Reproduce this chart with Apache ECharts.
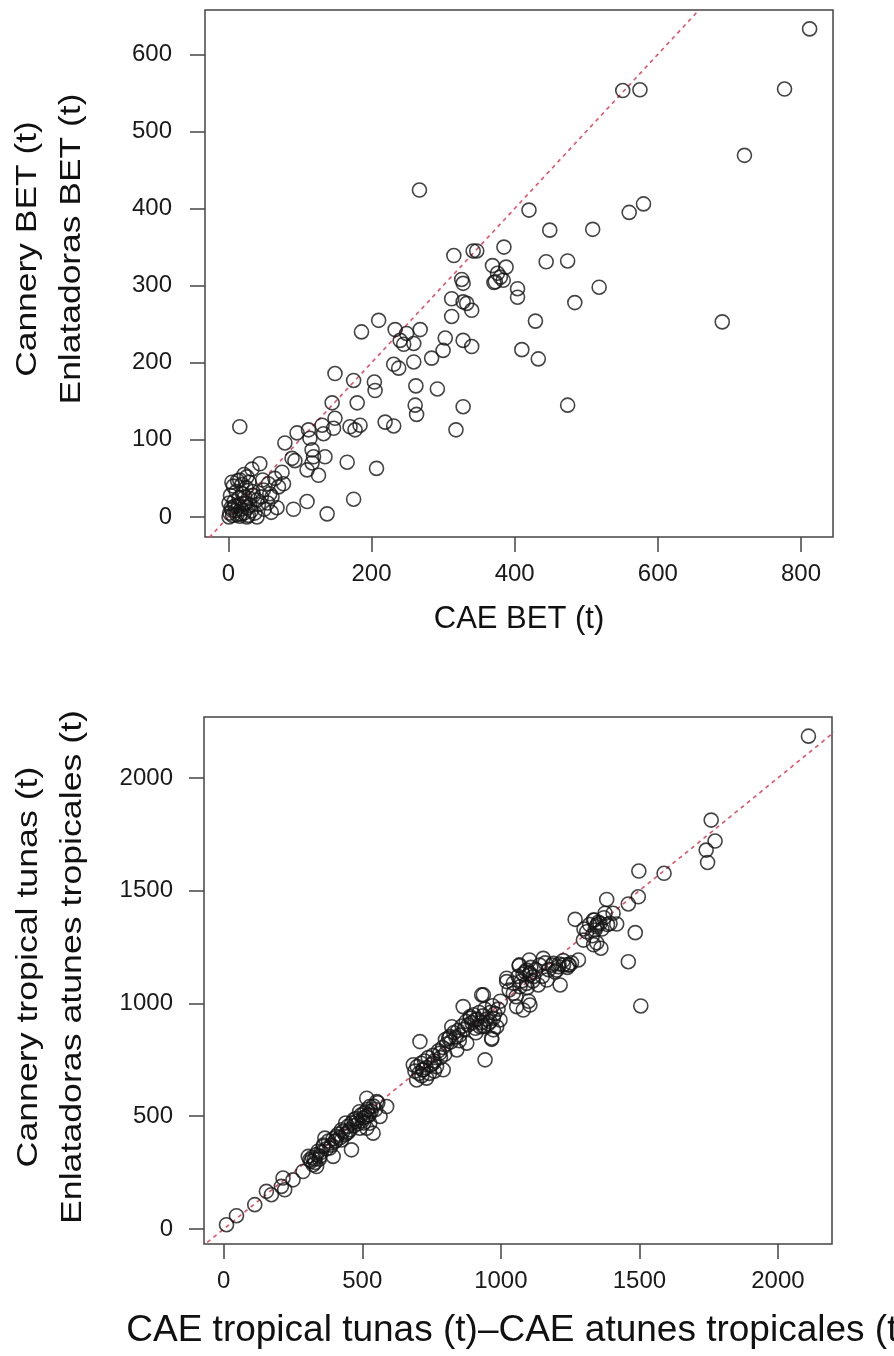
<!DOCTYPE html>
<html>
<head>
<meta charset="utf-8">
<script src="https://cdn.jsdelivr.net/npm/echarts@6/dist/echarts.min.js"></script>
<style>
html,body{margin:0;padding:0;background:#fff;}
#chart{width:894px;height:1356px;}
</style>
</head>
<body>
<div id="chart"></div>
<script>
// ---- Top panel: CAE BET (x) vs Cannery BET (y)
const topX = [812,777,721,551,575,420,560,580,449,509,385,444,474,369,388,404,404,484,518,429,690,410,433,474,267,315,342,347,326,373,376,384,380,371,
328,312,328,333,340,312,303,300,328,340,284,259,231,238,210,186,233,249,268,240,245,259,149,175,204,205,145,180,262,292,261,263,328,318,149,219,231,170,177,184,131,147,96,112,114,133,16,79,117,119,89,93,135,110,117,126,166,207,110,175,91,138,44,33,5,16,26,75,77,70,65,56,49,61,68,40,30,40,
2,4,6,8,10,12,14,15,16,18,20,22,24,25,27,28,30,32,34,3,7,11,13,19,22,1,5,9,17,21,23,29,35,37,42,46,50,55,60,1,26,48,58];
const topY = [633,555,469,553,554,398,395,406,372,373,350,331,332,326,324,296,285,278,298,254,253,217,205,145,424,339,345,345,308,305,316,307,311,304,
303,283,279,277,268,260,232,216,229,221,206,201,198,193,255,240,243,238,243,229,224,225,186,177,175,164,148,148,170,166,145,133,143,113,128,123,118,117,113,119,119,115,109,113,102,108,117,96,87,78,76,73,78,61,70,54,71,63,20,23,10,4,69,62,45,48,52,58,43,39,50,43,35,26,12,22,15,0,
5,12,2,20,8,3,15,25,1,10,30,5,18,38,12,2,24,8,33,28,40,33,47,42,55,18,9,14,4,17,26,45,28,5,16,26,10,18,6,0,0,48,30];

// ---- Bottom panel: CAE tropical tunas (x) vs Cannery tropical tunas (y)
const botX = [2110,1759,1773,1741,1746,1498,1589,1496,1460,1382,1268,1376,1334,1346,1358,1340,1394,1418,1310,1298,1346,1361,1485,1460,
1067,1103,1153,1190,1208,1226,1247,1280,1021,1105,1093,1117,1505,1066,1021,937,1045,1069,1093,1105,1135,1166,1202,1214,1244,1057,1081,1105,997,961,925,973,967,943,
10,46,112,154,172,214,208,220,250,286,311,323,305,335,347,365,359,383,395,401,425,443,407,461,479,503,521,527,491,516,516,552,588,527,564,539,
696,720,684,708,756,780,792,732,823,816,864,889,907,937,931,967,973,985,877,841,
315,320,328,335,340,352,360,370,378,388,395,405,412,420,430,438,448,455,462,470,478,485,495,500,508,512,518,525,532,540,548,556,505,490,470,450,440,425,345,330,
690,698,705,712,718,725,730,738,742,748,755,760,768,775,782,790,798,805,812,820,830,838,845,852,860,868,875,882,890,896,902,908,915,922,928,935,942,948,955,962,970,978,990,998,760,715,800,850,910,940,
1030,1045,1055,1062,1075,1088,1095,1108,1115,1125,1140,1150,1160,1172,1185,1195,1210,1225,1240,1255,1100,1080,
1300,1320,1330,1338,1345,1352,1365,1372,1385,1405,1335];
const botY = [2185,1813,1720,1680,1625,1587,1577,1473,1441,1461,1373,1400,1370,1348,1355,1326,1355,1352,1318,1281,1269,1245,1314,1185,
1171,1193,1200,1178,1163,1171,1171,1193,1112,1126,1148,1119,989,1167,1097,1038,1045,1074,1089,1134,1082,1104,1148,1082,1171,986,971,993,927,919,897,883,841,750,
19,59,108,167,152,226,189,174,218,255,307,285,322,277,322,403,366,359,322,388,440,425,410,351,477,492,506,469,447,447,580,565,543,543,499,425,
661,706,728,831,735,780,706,669,897,853,986,942,927,897,1038,846,935,897,824,794,
300,318,310,330,345,340,372,355,390,372,400,392,420,405,432,418,455,440,470,458,490,468,505,480,515,498,530,505,522,545,530,560,470,520,485,430,470,395,310,295,
700,720,690,735,705,745,715,760,690,728,770,745,720,790,760,805,775,820,845,830,870,850,880,860,900,885,920,905,935,915,950,890,930,960,915,945,975,930,910,960,990,955,975,1010,700,680,840,835,870,900,
1060,1090,1030,1120,1100,1140,1070,1160,1100,1150,1170,1120,1180,1150,1170,1140,1175,1190,1160,1180,1010,1130,
1330,1350,1300,1370,1340,1360,1330,1380,1350,1400,1260];

const topTicksX = [0,200,400,600,800];
const topTicksY = [0,100,200,300,400,500,600];
const botTicks = [0,500,1000,1500,2000];
const refLine = [[-1000,-1000],[5000,5000]];

function pairs(xs, ys){ return xs.map((x,i)=>[x, ys[i]]); }

const FONT = 'Liberation Sans, Arial, Helvetica, sans-serif';
const AX = '#444';
const plain = v => String(v);
function xAx(idx, min, max, ticks){
  return {type:'value', gridIndex:idx, min:min, max:max, position:'bottom',
    axisLine:{show:false, onZero:false},
    axisTick:{show:true, inside:false, length:15, customValues:ticks, lineStyle:{color:AX, width:1.5}},
    axisLabel:{show:true, customValues:ticks, formatter:plain, margin:25, fontSize:24, color:'#1a1a1a', fontFamily:FONT},
    splitLine:{show:false}};
}
function yAx(idx, min, max, ticks, margin){
  return {type:'value', gridIndex:idx, min:min, max:max, position:'left',
    axisLine:{show:false, onZero:false},
    axisTick:{show:true, inside:false, length:15, customValues:ticks, lineStyle:{color:AX, width:1.5}},
    axisLabel:{show:true, customValues:ticks, formatter:plain, margin:margin, fontSize:24, color:'#1a1a1a', fontFamily:FONT},
    splitLine:{show:false}};
}
const scatterStyle = {color:'rgba(0,0,0,0)', borderColor:'#151515', borderWidth:1.6};
const lineStyle = {color:'#DF536B', width:1.6, type:[4,4]};

function txt(text, x, y, size, rot, sx){
  return {type:'text', x:x, y:y, rotation:rot||0, scaleX:sx||1, scaleY:1,
    style:{text:text, fontSize:size, fontFamily:FONT, fill:'#111',
      align:'center', verticalAlign:'middle', textAlign:'center', textVerticalAlign:'middle'}};
}

const chart = echarts.init(document.getElementById('chart'), null, {renderer:'canvas'});
chart.setOption({
  animation:false,
  backgroundColor:'#fff',
  grid:[
    {left:205, top:10, width:628, height:527, show:true, borderColor:AX, borderWidth:1.5, backgroundColor:'rgba(0,0,0,0)'},
    {left:204, top:717, width:628, height:527, show:true, borderColor:AX, borderWidth:1.5, backgroundColor:'rgba(0,0,0,0)'}
  ],
  xAxis:[ xAx(0, -32.6, 844.7, topTicksX), xAx(1, -71.2, 2195, botTicks) ],
  yAxis:[ yAx(0, -26, 657.5, topTicksY, 33), yAx(1, -66.4, 2270, botTicks, 31) ],
  series:[
    {type:'line', xAxisIndex:0, yAxisIndex:0, data:refLine, showSymbol:false, symbol:'none', clip:true, lineStyle:lineStyle, silent:true, z:1},
    {type:'scatter', xAxisIndex:0, yAxisIndex:0, data:pairs(topX, topY), symbol:'circle', symbolSize:14, itemStyle:scatterStyle, z:2},
    {type:'line', xAxisIndex:1, yAxisIndex:1, data:refLine, showSymbol:false, symbol:'none', clip:true, lineStyle:lineStyle, silent:true, z:1},
    {type:'scatter', xAxisIndex:1, yAxisIndex:1, data:pairs(botX, botY), symbol:'circle', symbolSize:14, itemStyle:scatterStyle, z:2}
  ],
  graphic:[
    txt('Cannery BET (t)', 28, 249, 30, Math.PI/2, 1.18),
    txt('Enlatadoras BET (t)', 72, 249, 30, Math.PI/2, 1.18),
    txt('CAE BET (t)', 519, 619, 31),
    txt('Cannery tropical tunas (t)', 29, 967, 30, Math.PI/2, 1.19),
    txt('Enlatadoras atunes tropicales (t)', 73, 967, 30, Math.PI/2, 1.19),
    txt('CAE tropical tunas (t)\u2013CAE atunes tropicales (t)', 518, 1331, 37)
  ]
});
</script>
</body>
</html>
